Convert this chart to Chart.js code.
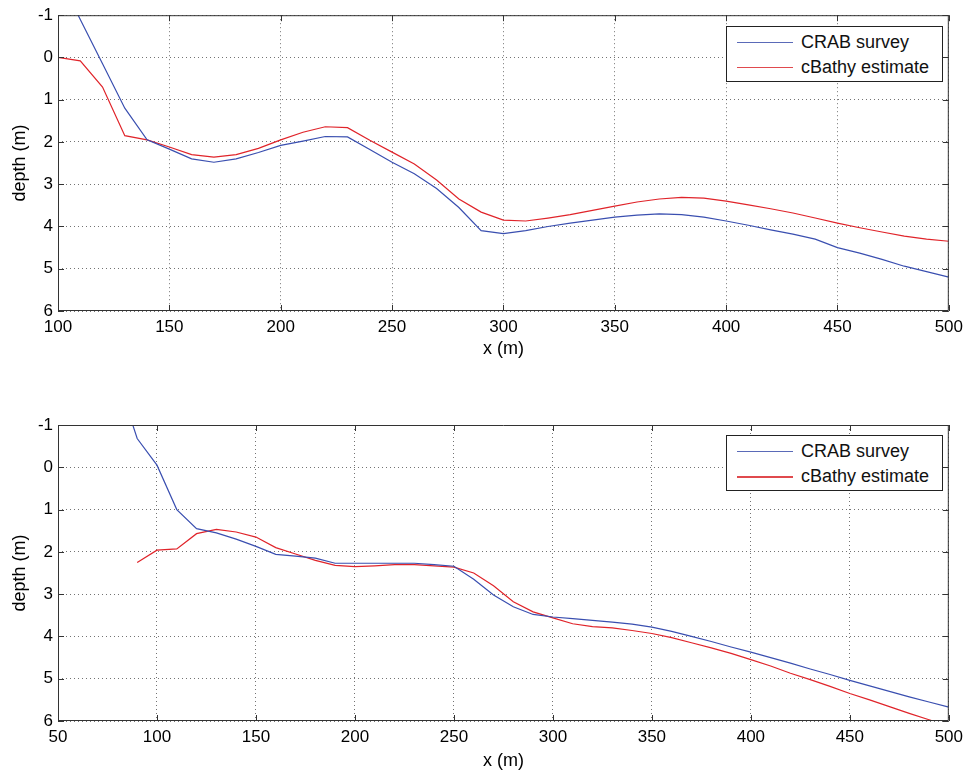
<!DOCTYPE html>
<html>
<head>
<meta charset="utf-8">
<script src="https://cdn.jsdelivr.net/npm/chart.js@4"></script>
<style>
  body { margin: 0; background: #fff; }
  .wrap { position: absolute; left: 0; width: 969px; }
  .legend {
    position: absolute; left: 726px; width: 215px; height: 54px;
    border: 1px solid #222; background: #fff; z-index: 2;
    font-family: "Liberation Sans", Arial, Helvetica, sans-serif; font-size: 18px; color: #111;
  }
  .legend .row { position: absolute; left: 0; width: 215px; height: 22px; line-height: 22px; white-space: nowrap; }
  .legend .swatch { position: absolute; left: 10px; top: 11px; width: 56px; height: 1px; }
  .legend .lbl { position: absolute; left: 74px; top: 0; }
</style>
</head>
<body>

<div class="wrap" style="top:0px;height:362px">
  <canvas id="chartTop" width="969" height="362"></canvas>
  <div class="legend" style="top:26px">
    <div class="row" style="top:4px"><div class="swatch" style="background:#5a6ab8"></div><span class="lbl">CRAB survey</span></div>
    <div class="row" style="top:29px"><div class="swatch" style="background:#e04a4e"></div><span class="lbl">cBathy estimate</span></div>
  </div>
</div>

<div class="wrap" style="top:386px;height:386px">
  <canvas id="chartBottom" width="969" height="386"></canvas>
  <div class="legend" style="top:49px">
    <div class="row" style="top:4px"><div class="swatch" style="background:#5a6ab8"></div><span class="lbl">CRAB survey</span></div>
    <div class="row" style="top:29px"><div class="swatch" style="background:#e04a4e;height:2px"></div><span class="lbl">cBathy estimate</span></div>
  </div>
</div>

<script>
// ---- data ----
const depthTicks = [-1, 0, 1, 2, 3, 4, 5, 6];
const topXTicks = [100, 150, 200, 250, 300, 350, 400, 450, 500];
const bottomXTicks = [50, 100, 150, 200, 250, 300, 350, 400, 450, 500];

const topX = [100, 110, 120, 130, 140, 150, 160, 170, 180, 190, 200, 210, 220, 230, 240, 250, 260, 270, 280, 290,
              300, 310, 320, 330, 340, 350, 360, 370, 380, 390, 400, 410, 420, 430, 440, 450, 460, 470, 480, 490, 500];
const topCrab = [-1.95, -0.9, 0.15, 1.2, 1.95, 2.17, 2.4, 2.48, 2.4, 2.25, 2.08, 1.98, 1.87, 1.88, 2.18, 2.48, 2.75, 3.1, 3.55, 4.1,
                 4.17, 4.1, 4.0, 3.92, 3.85, 3.78, 3.73, 3.7, 3.72, 3.78, 3.87, 3.97, 4.08, 4.18, 4.3, 4.5, 4.63, 4.78, 4.94, 5.07, 5.2];
const topCbathy = [0.0, 0.08, 0.7, 1.85, 1.95, 2.12, 2.3, 2.36, 2.3, 2.15, 1.95, 1.77, 1.64, 1.66, 1.96, 2.24, 2.52, 2.9, 3.35, 3.66,
                   3.85, 3.87, 3.8, 3.72, 3.62, 3.52, 3.42, 3.35, 3.31, 3.33, 3.4, 3.49, 3.58, 3.68, 3.8, 3.92, 4.03, 4.13, 4.23, 4.3, 4.35];

const bottomCrabX = [85, 90, 100, 110, 120, 130, 140, 150, 160, 170, 180, 190, 200, 210, 220, 230, 240, 250, 260, 270, 280, 290,
                     300, 310, 320, 330, 340, 350, 360, 370, 380, 390, 400, 410, 420, 430, 440, 450, 460, 470, 480, 490, 500];
const bottomCrab = [-1.4, -0.68, -0.05, 1.0, 1.45, 1.55, 1.7, 1.87, 2.06, 2.1, 2.15, 2.27, 2.27, 2.27, 2.27, 2.27, 2.3, 2.34, 2.65, 3.02, 3.3, 3.48,
                    3.54, 3.58, 3.62, 3.66, 3.71, 3.78, 3.88, 4.0, 4.12, 4.25, 4.37, 4.5, 4.63, 4.77, 4.9, 5.04, 5.17, 5.3, 5.43, 5.55, 5.67];
const bottomCbathyX = [90, 100, 110, 120, 130, 140, 150, 160, 170, 180, 190, 200, 210, 220, 230, 240, 250, 260, 270, 280, 290,
                       300, 310, 320, 330, 340, 350, 360, 370, 380, 390, 400, 410, 420, 430, 440, 450, 460, 470, 480, 490, 500];
const bottomCbathy = [2.25, 1.96, 1.93, 1.57, 1.47, 1.53, 1.65, 1.9, 2.05, 2.2, 2.32, 2.35, 2.33, 2.3, 2.3, 2.33, 2.36, 2.5, 2.8, 3.18, 3.42,
                      3.56, 3.7, 3.77, 3.8, 3.86, 3.93, 4.03, 4.15, 4.27, 4.4, 4.55, 4.7, 4.87, 5.02, 5.18, 5.35, 5.5, 5.66, 5.82, 5.97, 6.12];

const crabColor = '#3a4fb0';
const cbathyColor = '#e0242a';
const fontFamily = '"Liberation Sans", Arial, Helvetica, sans-serif';

function toPoints(xs, ys) {
    return xs.map((x, i) => ({ x: x, y: ys[i] }));
}

// matlab style box with inward tick marks
const boxPlugin = {
    id: 'box',
    afterDraw(chart) {
        const { ctx, chartArea: a, scales } = chart;
        ctx.save();
        ctx.strokeStyle = '#333';
        ctx.lineWidth = 1;
        ctx.beginPath();
        ctx.rect(a.left + 0.5, a.top + 0.5, a.right - a.left - 1, a.bottom - a.top - 1);
        scales.x.ticks.forEach(t => {
            const px = Math.round(scales.x.getPixelForValue(t.value)) + 0.5;
            ctx.moveTo(px, a.bottom); ctx.lineTo(px, a.bottom - 6);
            ctx.moveTo(px, a.top); ctx.lineTo(px, a.top + 6);
        });
        scales.y.ticks.forEach(t => {
            const py = Math.round(scales.y.getPixelForValue(t.value)) + 0.5;
            ctx.moveTo(a.left, py); ctx.lineTo(a.left + 6, py);
            ctx.moveTo(a.right, py); ctx.lineTo(a.right - 6, py);
        });
        ctx.stroke();
        ctx.restore();
    }
};

function makeChart(id, crabPts, cbathyPts, xTicks, padTop, titlePadBottom) {
    const ctx = document.getElementById(id).getContext('2d');
    return new Chart(ctx, {
        type: 'line',
        data: {
            datasets: [
                { label: 'CRAB survey', data: crabPts, borderColor: crabColor, borderWidth: 1.2, pointRadius: 0, tension: 0 },
                { label: 'cBathy estimate', data: cbathyPts, borderColor: cbathyColor, borderWidth: 1.2, pointRadius: 0, tension: 0 }
            ]
        },
        options: {
            responsive: false,
            animation: false,
            devicePixelRatio: 1,
            layout: { padding: { top: padTop, right: 16, left: 0, bottom: 0 } },
            plugins: { legend: { display: false }, tooltip: { enabled: false } },
            scales: {
                x: {
                    type: 'linear',
                    min: xTicks[0],
                    max: xTicks[xTicks.length - 1],
                    afterBuildTicks: s => { s.ticks = xTicks.map(v => ({ value: v })); },
                    afterFit: s => { s.height = 51; },
                    grid: { color: 'rgba(0,0,0,0.55)', drawTicks: false },
                    border: { display: false, dash: [1, 3] },
                    ticks: { padding: 6, color: '#000', maxRotation: 0, font: { family: fontFamily, size: 17 } },
                    title: { display: true, text: 'x (m)', color: '#000', padding: { top: 0, bottom: titlePadBottom },
                             font: { family: fontFamily, size: 18 } }
                },
                y: {
                    type: 'linear',
                    reverse: true,
                    min: depthTicks[0],
                    max: depthTicks[depthTicks.length - 1],
                    afterBuildTicks: s => { s.ticks = depthTicks.map(v => ({ value: v })); },
                    afterFit: s => { s.width = 58; },
                    grid: { color: 'rgba(0,0,0,0.55)', drawTicks: false },
                    border: { display: false, dash: [1, 3] },
                    ticks: { padding: 5, color: '#000', font: { family: fontFamily, size: 17 } },
                    title: { display: true, text: 'depth (m)', color: '#000', padding: { top: 9, bottom: 0 },
                             font: { family: fontFamily, size: 18 } }
                }
            }
        },
        plugins: [boxPlugin]
    });
}

const chartTop = makeChart('chartTop', toPoints(topX, topCrab), toPoints(topX, topCbathy), topXTicks, 15, 2);
const chartBottom = makeChart('chartBottom', toPoints(bottomCrabX, bottomCrab), toPoints(bottomCbathyX, bottomCbathy), bottomXTicks, 39, 0);
</script>
</body>
</html>
